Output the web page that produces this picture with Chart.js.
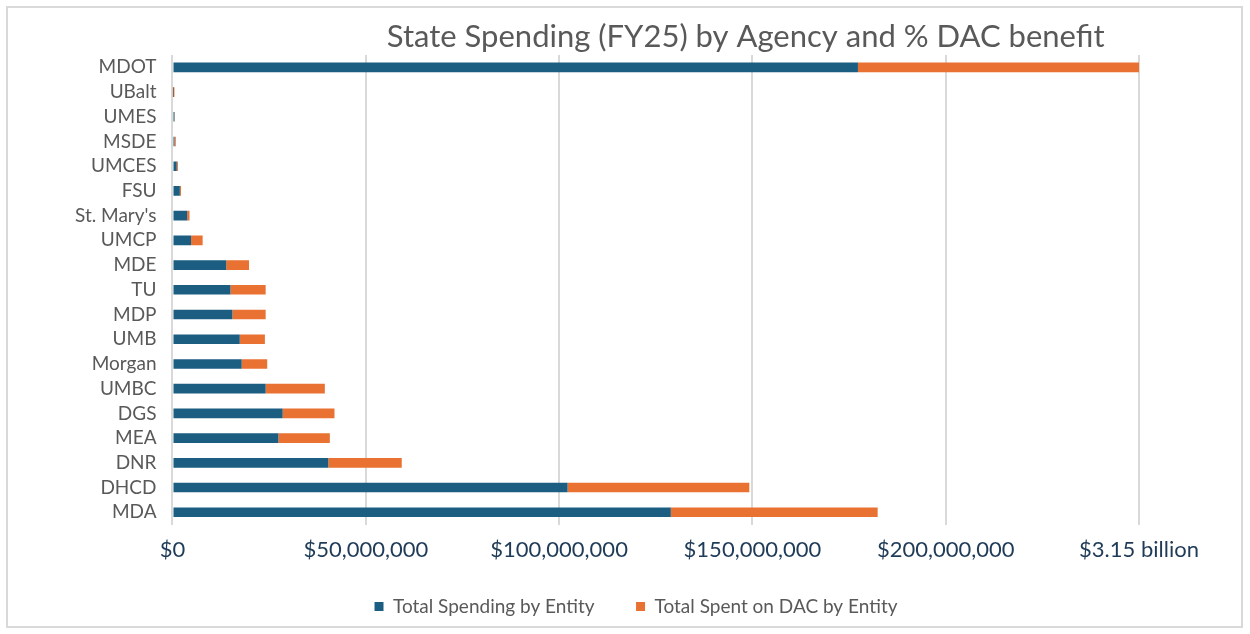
<!DOCTYPE html>
<html>
<head>
<meta charset="utf-8">
<script src="https://cdn.jsdelivr.net/npm/chart.js@4.4.1/dist/chart.umd.min.js"></script>
<style>
  html, body { margin: 0; padding: 0; background: #fff; }
  #frame {
    position: absolute; left: 6px; top: 6px;
    width: 1237px; height: 622px;
    border: 2px solid #D9D9D9; box-sizing: border-box;
  }
  #wrap { position: absolute; left: 0; top: 0; width: 1250px; height: 634px; }
</style>
</head>
<body>
<div id="frame"></div>
<div id="wrap"><canvas id="spendChart" width="1250" height="634"></canvas></div>
<script>
// agencies, top to bottom as in the chart
const agencies = ['MDOT', 'UBalt', 'UMES', 'MSDE', 'UMCES', 'FSU', "St. Mary's", 'UMCP', 'MDE', 'TU',
                  'MDP', 'UMB', 'Morgan', 'UMBC', 'DGS', 'MEA', 'DNR', 'DHCD', 'MDA'];

// millions of dollars (MDOT is cut off at the axis end, real total $3.15 billion)
const totalSpending = [177.3, 0.1, 0.5, 0.5, 1.1, 1.9, 3.8, 4.8, 13.9, 15.0,
                       15.5, 17.4, 17.9, 24.1, 28.5, 27.4, 40.3, 102.2, 128.9];
const spentOnDac = [72.7, 0.4, 0.1, 0.35, 0.3, 0.3, 0.6, 3.0, 5.9, 9.1,
                    8.6, 6.5, 6.6, 15.3, 13.4, 13.3, 19.0, 47.0, 53.5];

const tickValues = [0, 50, 100, 150, 200, 250];
const lastTickLabel = '$3.15 billion';

const titleText = 'State Spending (FY25) by Agency and % DAC benefit';

// title sits a bit right of the plot centre in the original
const offsetTitle = {
    id: 'offsetTitle',
    afterDraw(chart) {
        const ctx = chart.ctx;
        const area = chart.chartArea;
        ctx.save();
        ctx.font = '31px Lato';
        ctx.fillStyle = '#595959';
        ctx.textAlign = 'center';
        ctx.textBaseline = 'middle';
        ctx.fillText(titleText, (area.left + area.right) / 2 + 90, 37);
        ctx.restore();
    }
};

// legend in the original is centred on the whole frame, not the padded box
const shiftLegend = {
    id: 'shiftLegend',
    afterLayout(chart) {
        const lg = chart.legend;
        lg.left += 33;
        lg.right += 33;
    }
};

const ctx = document.getElementById('spendChart');
new Chart(ctx, {
    type: 'bar',
    data: {
        labels: agencies,
        datasets: [
            {
                label: 'Total Spending by Entity',
                data: totalSpending.map(v => v * 1e6),
                backgroundColor: '#1B5E82',
                barPercentage: 0.78,
                categoryPercentage: 0.5
            },
            {
                label: 'Total Spent on DAC by Entity',
                data: spentOnDac.map(v => v * 1e6),
                backgroundColor: '#E97132',
                barPercentage: 0.78,
                categoryPercentage: 0.5
            }
        ]
    },
    plugins: [offsetTitle, shiftLegend],
    options: {
        indexAxis: 'y',
        responsive: false,
        animation: false,
        maintainAspectRatio: false,
        layout: {
            padding: { left: 67, right: 111, top: 55, bottom: 8 }
        },
        plugins: {
            title: { display: false },
            tooltip: { enabled: false },
            legend: {
                position: 'bottom',
                labels: {
                    boxWidth: 9,
                    boxHeight: 9,
                    padding: 22,
                    color: '#595959',
                    font: { family: 'Lato', size: 19 },
                    generateLabels: chart => {
                        const items = Chart.defaults.plugins.legend.labels.generateLabels(chart);
                        items[0].text += '    ';
                        return items;
                    }
                }
            }
        },
        scales: {
            x: {
                stacked: true,
                min: 0,
                max: 250e6,
                afterBuildTicks: axis => {
                    axis.ticks = tickValues.map(v => ({ value: v * 1e6 }));
                },
                grid: { color: '#D9D9D9', lineWidth: 2, drawTicks: false },
                border: { display: false },
                ticks: {
                    color: '#1F3B57',
                    padding: 12,
                    maxRotation: 0,
                    font: { family: 'Lato', size: 22 },
                    callback: value => value === 250e6
                        ? lastTickLabel
                        : '$' + value.toLocaleString('en-US')
                }
            },
            y: {
                stacked: true,
                grid: { display: false },
                border: { display: false },
                ticks: {
                    color: '#595959',
                    padding: 8,
                    autoSkip: false,
                    font: { family: 'Lato', size: 19 }
                }
            }
        }
    }
});
</script>
</body>
</html>
